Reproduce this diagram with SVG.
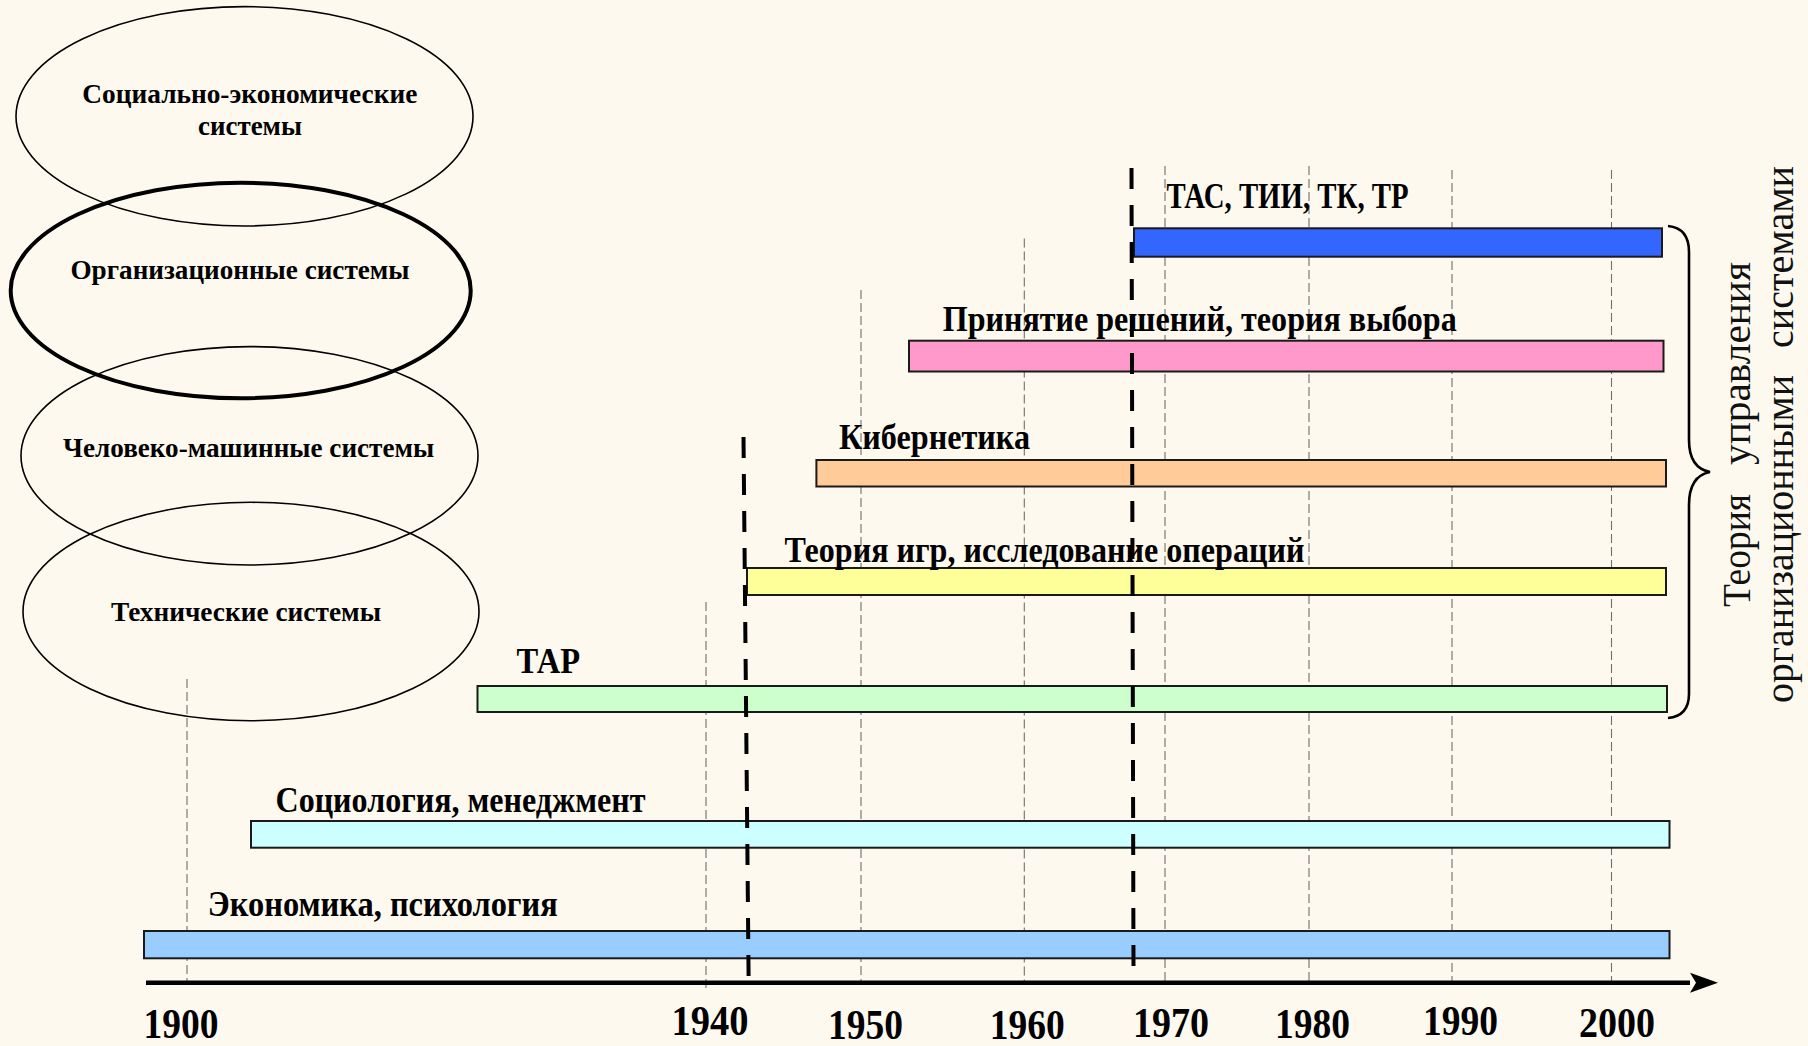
<svg xmlns="http://www.w3.org/2000/svg" width="1808" height="1046" viewBox="0 0 1808 1046">
<style>
.bg{fill:#FDF9EE}
.ell{fill:none;stroke:#000;stroke-width:1.6}
.ell-thick{fill:none;stroke:#000;stroke-width:4}
.etxt{font-family:"Liberation Serif","Times New Roman",serif;font-weight:bold;font-size:28px;fill:#000;text-anchor:middle}
.grid{stroke:#707070;stroke-width:1.1;stroke-dasharray:9 4;fill:none}
.bar{stroke:#1a1a1a;stroke-width:2}
.btxt{font-family:"Liberation Serif","Times New Roman",serif;font-weight:bold;font-size:36px;fill:#000}
.era{stroke:#000;stroke-width:4;stroke-dasharray:21 16;fill:none}
.axis{stroke:#000;stroke-width:4.5;fill:none}
.year{font-family:"Liberation Serif","Times New Roman",serif;font-weight:bold;font-size:42px;fill:#000}
.vtxt{font-family:"Liberation Serif","Times New Roman",serif;font-size:40px;fill:#111}
.brace{fill:none;stroke:#000;stroke-width:2.6}
</style>
<defs>
<marker id="arrow" markerUnits="userSpaceOnUse" markerWidth="32" markerHeight="24" refX="0" refY="12" orient="auto" viewBox="0 0 32 24">
<polygon points="0,2 28,12 0,22 6,12" fill="#000"/>
</marker>
</defs>
<rect class="bg" x="0" y="0" width="1808" height="1046"/>

<g id="grid">
<line class="grid" x1="187" y1="679" x2="187" y2="982"/>
<line class="grid" x1="706" y1="602" x2="706" y2="988"/>
<line class="grid" x1="861" y1="290" x2="861" y2="982"/>
<line class="grid" x1="1024.3" y1="238.5" x2="1024.3" y2="982"/>
<line class="grid" x1="1165" y1="166" x2="1165" y2="982"/>
<line class="grid" x1="1309" y1="166" x2="1309" y2="982"/>
<line class="grid" x1="1452" y1="170" x2="1452" y2="982"/>
<line class="grid" x1="1611.5" y1="170" x2="1611.5" y2="982"/>
</g>

<g id="ellipse-socio-economic">
<ellipse class="ell" cx="244.5" cy="116.3" rx="228.5" ry="109.7"/>
<text class="etxt" x="249.8" y="103.3" textLength="335" lengthAdjust="spacingAndGlyphs">Социально-экономические</text>
<text class="etxt" x="250" y="135" textLength="104" lengthAdjust="spacingAndGlyphs">системы</text>
</g>
<g id="ellipse-human-machine">
<ellipse class="ell" cx="249.5" cy="455.8" rx="228.5" ry="109.2"/>
<text class="etxt" x="248.6" y="456.7" textLength="371" lengthAdjust="spacingAndGlyphs">Человеко-машинные системы</text>
</g>
<g id="ellipse-technical">
<ellipse class="ell" cx="251" cy="611.5" rx="228" ry="109.2"/>
<text class="etxt" x="246" y="620.7" textLength="270" lengthAdjust="spacingAndGlyphs">Технические системы</text>
</g>
<g id="ellipse-organizational">
<ellipse class="ell-thick" cx="240.7" cy="290.5" rx="230" ry="107.8"/>
<text class="etxt" x="240" y="279.3" textLength="339" lengthAdjust="spacingAndGlyphs">Организационные системы</text>
</g>

<g id="bar-tas">
<rect class="bar" x="1134" y="228.3" width="528" height="28.4" fill="#3366FF"/>
<text class="btxt" x="1166.6" y="208.3" font-size="29" textLength="242" lengthAdjust="spacingAndGlyphs">ТАС, ТИИ, ТК, ТР</text>
</g>
<g id="bar-decision">
<rect class="bar" x="909" y="340.7" width="754.5" height="30.8" fill="#FF99CC"/>
<text class="btxt" x="942.7" y="330.5" textLength="514" lengthAdjust="spacingAndGlyphs">Принятие решений, теория выбора</text>
</g>
<g id="bar-cybernetics">
<rect class="bar" x="816.4" y="460" width="849.6" height="26.5" fill="#FFCC99"/>
<text class="btxt" x="839" y="448.5" textLength="191" lengthAdjust="spacingAndGlyphs">Кибернетика</text>
</g>
<g id="bar-games">
<rect class="bar" x="747" y="568" width="919" height="27" fill="#FFFF99"/>
<text class="btxt" x="784.4" y="562" textLength="520" lengthAdjust="spacingAndGlyphs">Теория игр, исследование операций</text>
</g>
<g id="bar-tar">
<rect class="bar" x="477.5" y="686" width="1189.5" height="26" fill="#CCFFCC"/>
<text class="btxt" x="516.6" y="672.7" textLength="63.4" lengthAdjust="spacingAndGlyphs">ТАР</text>
</g>
<g id="bar-sociology">
<rect class="bar" x="251" y="821" width="1418.5" height="26.7" fill="#CCFFFF"/>
<text class="btxt" x="275.5" y="811.7" textLength="370" lengthAdjust="spacingAndGlyphs">Социология, менеджмент</text>
</g>
<g id="bar-economics">
<rect class="bar" x="144" y="931" width="1525.5" height="27.3" fill="#99CCFF"/>
<text class="btxt" x="207.8" y="916" textLength="350" lengthAdjust="spacingAndGlyphs">Экономика, психология</text>
</g>

<g id="connectors">
<line class="era" x1="743.5" y1="437" x2="748.6" y2="977"/>
<line class="era" x1="1131.5" y1="168" x2="1133.5" y2="970"/>
<line class="axis" x1="146" y1="982.7" x2="1690" y2="982.7" marker-end="url(#arrow)"/>
<path class="brace" d="M1668,226 Q1689,228 1689,252 L1689,440 Q1689,468 1710,472 Q1689,476 1689,505 L1689,694 Q1689,716 1668,718"/>
</g>

<g id="years">
<text class="year" x="143.5" y="1038" textLength="75" lengthAdjust="spacingAndGlyphs">1900</text>
<text class="year" x="671.6" y="1035" textLength="77" lengthAdjust="spacingAndGlyphs">1940</text>
<text class="year" x="828" y="1039" textLength="75" lengthAdjust="spacingAndGlyphs">1950</text>
<text class="year" x="989.7" y="1039" textLength="75" lengthAdjust="spacingAndGlyphs">1960</text>
<text class="year" x="1133" y="1037" textLength="76" lengthAdjust="spacingAndGlyphs">1970</text>
<text class="year" x="1275" y="1038" textLength="75" lengthAdjust="spacingAndGlyphs">1980</text>
<text class="year" x="1423" y="1035" textLength="75" lengthAdjust="spacingAndGlyphs">1990</text>
<text class="year" x="1579" y="1037" textLength="76" lengthAdjust="spacingAndGlyphs">2000</text>
</g>

<g id="title-vertical">
<text class="vtxt" transform="translate(1750,607) rotate(-90)" textLength="113" lengthAdjust="spacingAndGlyphs">Теория</text>
<text class="vtxt" transform="translate(1750,465) rotate(-90)" textLength="203" lengthAdjust="spacingAndGlyphs">управления</text>
<text class="vtxt" transform="translate(1793,703) rotate(-90)" textLength="328" lengthAdjust="spacingAndGlyphs">организационными</text>
<text class="vtxt" transform="translate(1793,348) rotate(-90)" textLength="182" lengthAdjust="spacingAndGlyphs">системами</text>
</g>
</svg>
